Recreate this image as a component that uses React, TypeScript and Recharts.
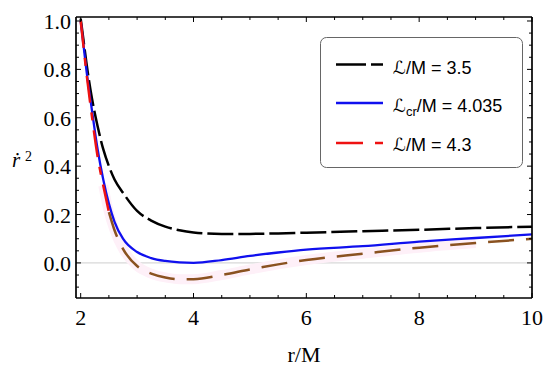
import { LineChart, Line, XAxis, YAxis, ReferenceLine } from 'recharts'

// r/M sample points
const rValues = [2.0, 2.05, 2.1, 2.2, 2.3, 2.4, 2.5, 2.6, 2.75, 3.0, 3.25, 3.5, 3.75, 4.0, 4.5, 5.0, 5.5, 6.0, 7.0, 8.0, 9.0, 10.0]

// rdot^2
const l35 = [1.01, 0.92, 0.83, 0.68, 0.565, 0.47, 0.4, 0.345, 0.29, 0.215, 0.175, 0.15, 0.135, 0.126, 0.12, 0.12, 0.122, 0.125, 0.131, 0.137, 0.144, 0.15]
const lcr = [1.0, 0.9, 0.8, 0.63, 0.47, 0.345, 0.245, 0.17, 0.1, 0.045, 0.02, 0.008, 0.002, 0.0, 0.012, 0.029, 0.043, 0.055, 0.069, 0.088, 0.103, 0.118]
const l43 = [1.0, 0.895, 0.79, 0.605, 0.44, 0.32, 0.21, 0.135, 0.058, -0.013, -0.044, -0.06, -0.067, -0.067, -0.05, -0.027, -0.006, 0.012, 0.038, 0.063, 0.082, 0.1]

const xTicks = [2, 2.5, 3, 3.5, 4, 4.5, 5, 5.5, 6, 6.5, 7, 7.5, 8, 8.5, 9, 9.5, 10]
const xMajor = [2, 4, 6, 8, 10]
const yTicks = [-0.1, -0.05, 0, 0.05, 0.1, 0.15, 0.2, 0.25, 0.3, 0.35, 0.4, 0.45, 0.5, 0.55, 0.6, 0.65, 0.7, 0.75, 0.8, 0.85, 0.9, 0.95, 1.0]
const yMajor = [0, 0.2, 0.4, 0.6, 0.8, 1.0]

const data = rValues.map((r, i) => ({
  r,
  a: l35[i],
  b: lcr[i],
  c: r <= 2.5 ? l43[i] : null,
  d: r >= 2.5 ? l43[i] : null,
  halo: r >= 2.4 && r <= 9.5 ? l43[i] : null,
}))

const serif = '"Liberation Serif", "Times New Roman", serif'
const sans = '"Liberation Sans", "DejaVu Sans", Arial, sans-serif'
const tickStyle = { fontFamily: serif, fontSize: 22 }

const isMajor = (list: number[], v: number) => list.some((m) => Math.abs(m - v) < 1e-6)

const BottomTick = ({ x, y, payload }: any) => {
  const major = isMajor(xMajor, payload.value)
  return (
    <g>
      <line x1={x} y1={y} x2={x} y2={y - (major ? 5 : 3)} stroke="#000" strokeWidth={1} />
      {major && (
        <text x={x} y={y + 27} textAnchor="middle" fontFamily={serif} style={tickStyle} fill="#000">
          {payload.value}
        </text>
      )}
    </g>
  )
}

const TopTick = ({ x, y, payload }: any) => {
  const major = isMajor(xMajor, payload.value)
  return <line x1={x} y1={y} x2={x} y2={y + (major ? 5 : 3)} stroke="#000" strokeWidth={1} />
}

const LeftTick = ({ x, y, payload }: any) => {
  const major = isMajor(yMajor, payload.value)
  return (
    <g>
      <line x1={x} y1={y} x2={x + (major ? 5 : 3)} y2={y} stroke="#000" strokeWidth={1} />
      {major && (
        <text x={x - 5} y={y + 8} textAnchor="end" fontFamily={serif} style={tickStyle} fill="#000">
          {payload.value.toFixed(1)}
        </text>
      )}
    </g>
  )
}

const RightTick = ({ x, y, payload }: any) => {
  const major = isMajor(yMajor, payload.value)
  return <line x1={x} y1={y} x2={x - (major ? 5 : 3)} y2={y} stroke="#000" strokeWidth={1} />
}

const frame = { stroke: '#000', strokeWidth: 1.7 }

export default function App() {
  return (
    <div style={{ position: 'absolute', left: 0, top: 0, width: 550, height: 372, background: '#fff' }}>
      <LineChart width={550} height={372} data={data} margin={{ top: 16, right: 17, bottom: 73, left: 75 }}>
        <XAxis
          dataKey="r"
          type="number"
          domain={[1.917, 10]}
          allowDataOverflow
          ticks={xTicks}
          interval={0}
          height={1}
          tickSize={0}
          tickMargin={0}
          tickLine={false}
          tick={<BottomTick />}
          axisLine={frame}
        />
        <XAxis
          xAxisId="t"
          orientation="top"
          dataKey="r"
          type="number"
          domain={[1.917, 10]}
          allowDataOverflow
          ticks={xTicks}
          interval={0}
          height={1}
          tickSize={0}
          tickMargin={0}
          tickLine={false}
          tick={<TopTick />}
          axisLine={frame}
        />
        <YAxis
          type="number"
          domain={[-0.145, 1.0165]}
          allowDataOverflow
          ticks={yTicks}
          interval={0}
          width={1}
          tickSize={0}
          tickMargin={0}
          tickLine={false}
          tick={<LeftTick />}
          axisLine={frame}
        />
        <YAxis
          yAxisId="r"
          orientation="right"
          type="number"
          domain={[-0.145, 1.0165]}
          allowDataOverflow
          ticks={yTicks}
          interval={0}
          width={1}
          tickSize={0}
          tickMargin={0}
          tickLine={false}
          tick={<RightTick />}
          axisLine={frame}
        />
        <ReferenceLine y={0} stroke="#cfcfcf" strokeWidth={1} />
        <Line dataKey="halo" type="monotone" stroke="#fef0f8" strokeWidth={10} dot={false} activeDot={false} isAnimationActive={false} />
        <Line dataKey="a" type="monotone" stroke="#000" strokeWidth={2.5} strokeDasharray="26 5" dot={false} activeDot={false} isAnimationActive={false} />
        <Line dataKey="b" type="monotone" stroke="#1010ee" strokeWidth={2.3} dot={false} activeDot={false} isAnimationActive={false} />
        <Line dataKey="c" type="monotone" stroke="#ee1111" strokeWidth={2.5} strokeDasharray="27 10 8 10" dot={false} activeDot={false} isAnimationActive={false} />
        <Line dataKey="d" type="monotone" stroke="#8a5220" strokeWidth={2.5} strokeDasharray="26 12" dot={false} activeDot={false} isAnimationActive={false} />
      </LineChart>
      <svg width={550} height={372} style={{ position: 'absolute', left: 0, top: 0, pointerEvents: 'none' }}>
        <text x={12} y={167} style={{ fontFamily: serif, fontSize: 21, fontStyle: 'italic' }} fill="#000">
          {'\u1E59'}
        </text>
        <text x={25} y={161} style={{ fontFamily: serif, fontSize: 14 }} fill="#000">
          2
        </text>
        <text x={304} y={362} textAnchor="middle" style={tickStyle} fill="#000">
          r/M
        </text>
        <rect x={320.5} y={37.5} width={202} height={130} rx={6} fill="#fff" stroke="#666" strokeWidth={1} />
        <line x1={336} y1={64.5} x2={383} y2={64.5} stroke="#000" strokeWidth={2.6} strokeDasharray="30 5" />
        <text x={393} y={74} style={{ fontFamily: sans, fontSize: 18 }} fill="#000">
          ℒ/M = 3.5
        </text>
        <line x1={336} y1={103} x2={383} y2={103} stroke="#1010ee" strokeWidth={2.6} />
        <text x={393} y={112} style={{ fontFamily: sans, fontSize: 18 }} fill="#000">
          ℒ<tspan style={{ fontSize: 13 }} dy={4}>cr</tspan>
          <tspan dy={-4}>/M = 4.035</tspan>
        </text>
        <line x1={336} y1={143} x2={383} y2={143} stroke="#ee1111" strokeWidth={2.6} strokeDasharray="27 12 8" />
        <text x={393} y={151} style={{ fontFamily: sans, fontSize: 18 }} fill="#000">
          ℒ/M = 4.3
        </text>
      </svg>
    </div>
  )
}
